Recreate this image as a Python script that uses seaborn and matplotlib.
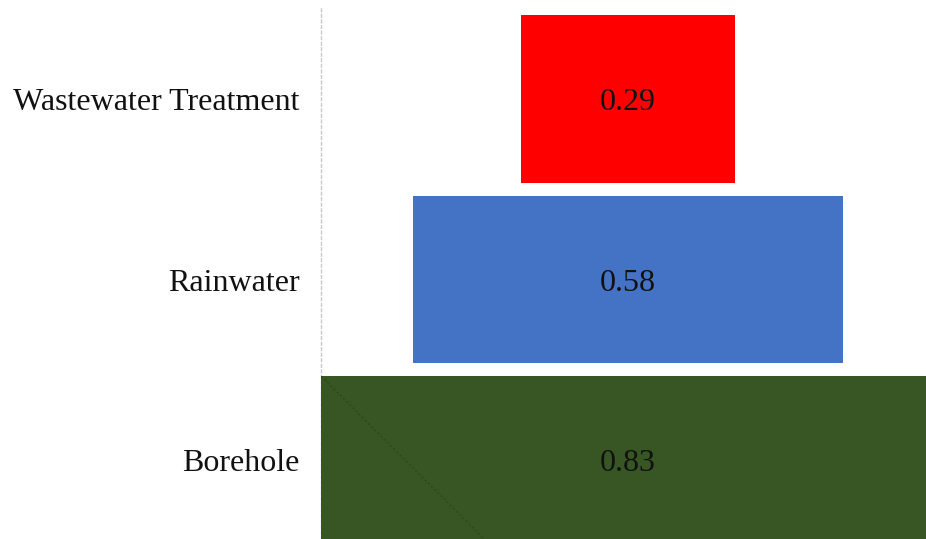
import matplotlib
matplotlib.use("Agg")
import matplotlib.pyplot as plt
import seaborn as sns
import pandas as pd

categories = ["Wastewater Treatment", "Rainwater", "Borehole"]
values = [0.29, 0.58, 0.83]
labels = ["0.29", "0.58", "0.83"]
colors = ["#FF0000", "#4472C4", "#375623"]

sns.set_theme(style="white")
plt.rcParams["font.family"] = ["Liberation Serif", "DejaVu Serif"]

df = pd.DataFrame({"category": categories, "value": values})

fig = plt.figure(figsize=(9.26, 5.39), dpi=100)
ax = fig.add_axes([321 / 926, 0.0, 1 - 321 / 926, (539 - 8) / 539])

sns.barplot(data=df, x="value", y="category", hue="category", palette=colors,
            orient="h", width=0.93, legend=False, ax=ax, saturation=1,
            linewidth=0, zorder=2)

for p, lab in zip(ax.patches, labels):
    w = p.get_width()
    p.set_x(-w / 2)
    cy = p.get_y() + p.get_height() / 2
    ax.text(0, cy + 0.02, lab, ha="center", va="center", fontsize=23,
            color="#111111", zorder=3)

half = max(values) / 2
ax.set_xlim(-half, (926 - 628) / 740)
ax.set_ylim(2 + (539 - 460) / 180.5, -(99 - 8) / 180.5)

# faint diagonal artifact line in the bottom bar
bp = ax.patches[2]
ax.plot([bp.get_x(), bp.get_x() + 0.22], [bp.get_y(), bp.get_y() + 0.9],
        color="#2c461c", linestyle=(0, (2, 2)), linewidth=0.8, zorder=2.5)

for s in ["top", "right", "bottom"]:
    ax.spines[s].set_visible(False)
ax.spines["left"].set_color("#c8c8c8")
ax.spines["left"].set_linestyle((0, (2, 2)))
ax.spines["left"].set_linewidth(1)
ax.spines["left"].set_zorder(1)

ax.set_xticks([])
ax.set_xlabel("")
ax.set_ylabel("")
ax.tick_params(axis="y", length=0, pad=15.5, labelsize=23)
for t in ax.get_yticklabels():
    t.set_color("#111111")

fig.savefig("out.png", dpi=100)
